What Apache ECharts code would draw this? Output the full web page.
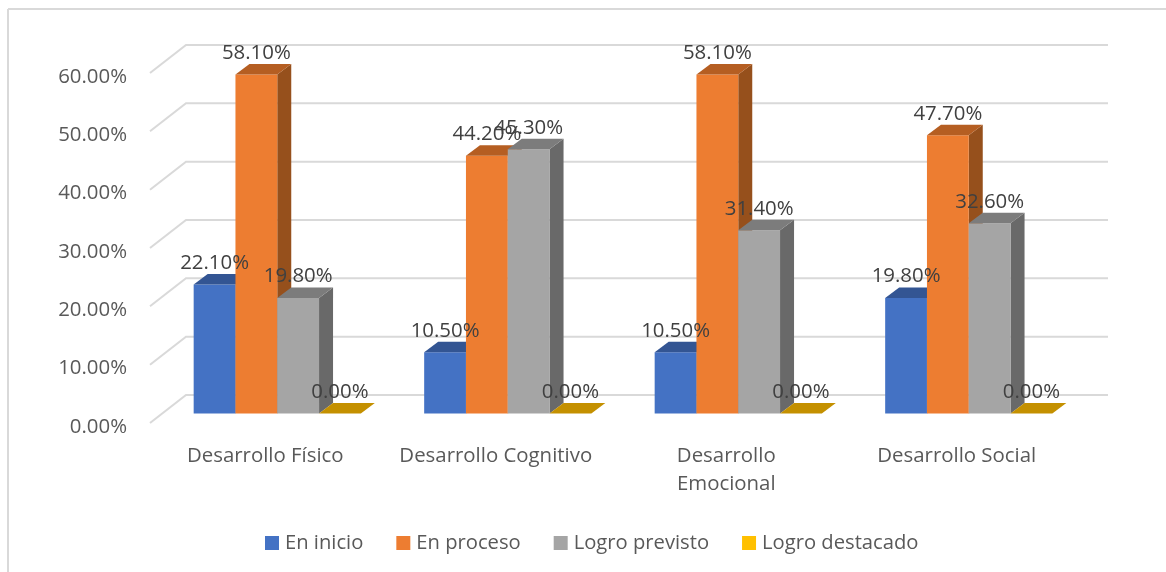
<!DOCTYPE html>
<html>
<head>
<meta charset="utf-8">
<style>html,body{margin:0;padding:0;background:#fff}#c{width:1166px;height:572px}</style>
<script src="https://cdn.jsdelivr.net/npm/echarts@6/dist/echarts.min.js"></script>
</head>
<body>
<div id="c"></div>
<script>
const categories = ['Desarrollo Físico', 'Desarrollo Cognitivo', 'Desarrollo\nEmocional', 'Desarrollo Social'];
const enInicio = [22.1, 10.5, 10.5, 19.8];
const enProceso = [58.1, 44.2, 58.1, 47.7];
const logroPrevisto = [19.8, 45.3, 31.4, 32.6];
const logroDestacado = [0, 0, 0, 0];
const yTicks = [0, 10, 20, 30, 40, 50, 60];
const seriesNames = ['En inicio', 'En proceso', 'Logro previsto', 'Logro destacado'];

const FONT = '"Open Sans"';
const FS = 20.4;
const palette = [
  { front: '#4472C4', top: '#335593', side: '#2F5597' },
  { front: '#ED7D31', top: '#B55E22', side: '#96501C' },
  { front: '#A5A5A5', top: '#7C7C7C', side: '#696969' },
  { front: '#FFC000', top: '#C49000', side: '#9A7200' }
];
const legendColors = palette.map(p => p.front);

// 3D projection constants (pixels)
const WALL = [36, -28];     // floor front edge -> back wall
const PLANE = [12, -9.5];   // floor front edge -> bars' front plane
const DEPTH = [14, -10.5];  // bars' depth
const BAR_RATIO = 0.1813;   // bar width / category band

function wallRender(params, api) {
  const y = api.coord([0, api.value(0)])[1];
  const cs = params.coordSys;
  return {
    type: 'polyline',
    shape: { points: [[cs.x, y], [cs.x + WALL[0], y + WALL[1]], [cs.x + cs.width + WALL[0], y + WALL[1]]] },
    style: { stroke: '#D9D9D9', lineWidth: 2, fill: null }
  };
}

function barRender(si) {
  return function (params, api) {
    const cat = api.value(0), val = api.value(1);
    const band = api.size([1, 0])[0];
    const w = band * BAR_RATIO;
    const cx = api.coord([cat, 0])[0];
    const x0 = cx + PLANE[0] - 2 * w + si * w;
    const x1 = x0 + w;
    const yb = api.coord([cat, 0])[1] + PLANE[1];
    const yt = api.coord([cat, val])[1] + PLANE[1];
    const dx = DEPTH[0], dy = DEPTH[1], c = palette[si];
    const poly = (pts, fill) => ({ type: 'polygon', shape: { points: pts }, style: { fill: fill, stroke: null } });
    const children = [];
    if (yb - yt > 0) {
      children.push(poly([[x1, yb], [x1 + dx, yb + dy], [x1 + dx, yt + dy], [x1, yt]], c.side));
      children.push(poly([[x0, yb], [x1, yb], [x1, yt], [x0, yt]], c.front));
    }
    children.push(poly([[x0, yt], [x1, yt], [x1 + dx, yt + dy], [x0 + dx, yt + dy]], c.top));
    children.push({
      type: 'text', z2: 100,
      style: {
        x: (x0 + x1) / 2, y: yt - 21.5, text: val.toFixed(2) + '%',
        fill: '#404040', font: FS + 'px ' + FONT, align: 'center', verticalAlign: 'middle'
      }
    });
    return { type: 'group', children: children };
  };
}

const seriesValues = [enInicio, enProceso, logroPrevisto, logroDestacado];
const chart = echarts.init(document.getElementById('c'));
chart.setOption({
  animation: false,
  backgroundColor: '#fff',
  color: legendColors,
  textStyle: { fontFamily: FONT },
  graphic: [
    { type: 'line', silent: true, shape: { x1: 8, y1: 9, x2: 1166, y2: 9 }, style: { stroke: '#D9D9D9', lineWidth: 2 } },
    { type: 'line', silent: true, shape: { x1: 8, y1: 9, x2: 8, y2: 572 }, style: { stroke: '#D9D9D9', lineWidth: 2 } }
  ],
  grid: { left: 150, right: 94, top: 73, bottom: 149 },
  legend: {
    left: 265, top: 533, padding: 0, icon: 'rect', itemWidth: 14, itemHeight: 14, itemGap: 33,
    data: seriesNames,
    textStyle: { color: '#595959', fontSize: 20.2, fontFamily: FONT, padding: [0, 0, 0, 1] }
  },
  xAxis: {
    type: 'category', data: categories,
    axisLine: { show: false }, axisTick: { show: false }, splitLine: { show: false },
    axisLabel: { color: '#595959', fontSize: FS, fontFamily: FONT, margin: 19, lineHeight: 28, interval: 0 }
  },
  yAxis: {
    type: 'value', min: 0, max: 60, interval: 10,
    axisLine: { show: false }, axisTick: { show: false }, splitLine: { show: false },
    axisLabel: {
      color: '#595959', fontSize: FS, fontFamily: FONT, margin: 23,
      verticalAlign: 'top', lineHeight: 8,
      formatter: v => v.toFixed(2) + '%'
    }
  },
  series: [
    { type: 'custom', name: '_wall', silent: true, z: 1, renderItem: wallRender,
      encode: { y: 0 }, data: yTicks.map(t => [t]), clip: false }
  ].concat(seriesNames.map((n, si) => ({
    type: 'custom', name: n, z: 2, renderItem: barRender(si), clip: false,
    itemStyle: { color: legendColors[si] },
    encode: { x: 0, y: 1 },
    data: seriesValues[si].map((v, i) => [i, v])
  })))
});
</script>
</body>
</html>
